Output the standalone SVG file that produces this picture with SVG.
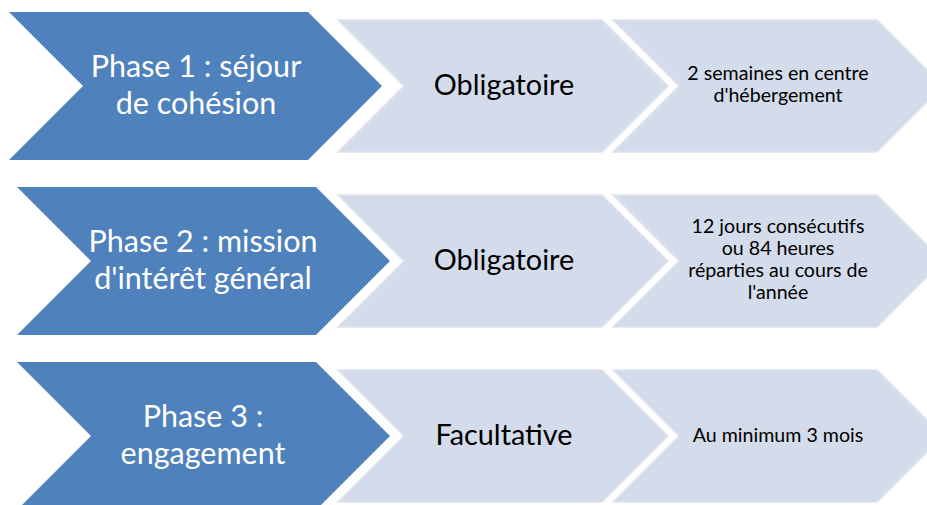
<svg xmlns="http://www.w3.org/2000/svg" width="927" height="505" viewBox="0 0 927 505">
<style>
.blue{fill:#4F81BD;}
.light{fill:#D4DBEA;stroke:#DEE3EF;stroke-width:1.5;}
.tb{font-family:Lato,"Open Sans","Liberation Sans",sans-serif;font-size:30.5px;fill:#FFFFFF;text-anchor:middle;}
.tm{font-family:Lato,"Open Sans","Liberation Sans",sans-serif;font-size:28.8px;fill:#000000;text-anchor:middle;}
.ts{font-family:Lato,"Open Sans","Liberation Sans",sans-serif;font-size:19.6px;fill:#000000;text-anchor:middle;}
</style>
<rect width="927" height="505" fill="#FFFFFF"/>
<g id="phase1">
<polygon class="blue" points="9,12 308,12 382,86 308,160 9,160 83,86"/>
<text class="tb" x="196" y="77">Phase 1 : séjour</text>
<text class="tb" x="196" y="114">de cohésion</text>
</g>
<g id="phase1-type">
<polygon class="light" points="338,20 602,20 668,86 602,152 338,152 404,86"/>
<text class="tm" x="504" y="95">Obligatoire</text>
</g>
<g id="phase1-duree">
<polygon class="light" points="613,20 877,20 943,86 877,152 613,152 679,86"/>
<text class="ts" x="778" y="80">2 semaines en centre</text>
<text class="ts" x="778" y="102">d'hébergement</text>
</g>
<g id="phase2">
<polygon class="blue" points="17,187 316,187 390,261 316,335 17,335 91,261"/>
<text class="tb" x="203" y="252">Phase 2 : mission</text>
<text class="tb" x="203" y="289">d'intérêt général</text>
</g>
<g id="phase2-type">
<polygon class="light" points="338,195 602,195 668,261 602,327 338,327 404,261"/>
<text class="tm" x="504" y="270">Obligatoire</text>
</g>
<g id="phase2-duree">
<polygon class="light" points="613,195 877,195 943,261 877,327 613,327 679,261"/>
<text class="ts" x="778" y="233">12 jours consécutifs</text>
<text class="ts" x="778" y="255">ou 84 heures</text>
<text class="ts" x="778" y="277">réparties au cours de</text>
<text class="ts" x="778" y="299">l'année</text>
</g>
<g id="phase3">
<polygon class="blue" points="17,362 316,362 390,436 316,510 17,510 91,436"/>
<text class="tb" x="203" y="427">Phase 3 :</text>
<text class="tb" x="203" y="464">engagement</text>
</g>
<g id="phase3-type">
<polygon class="light" points="338,370 602,370 668,436 602,502 338,502 404,436"/>
<text class="tm" x="504" y="445">Facultative</text>
</g>
<g id="phase3-duree">
<polygon class="light" points="613,370 877,370 943,436 877,502 613,502 679,436"/>
<text class="ts" x="778" y="442">Au minimum 3 mois</text>
</g>
</svg>
